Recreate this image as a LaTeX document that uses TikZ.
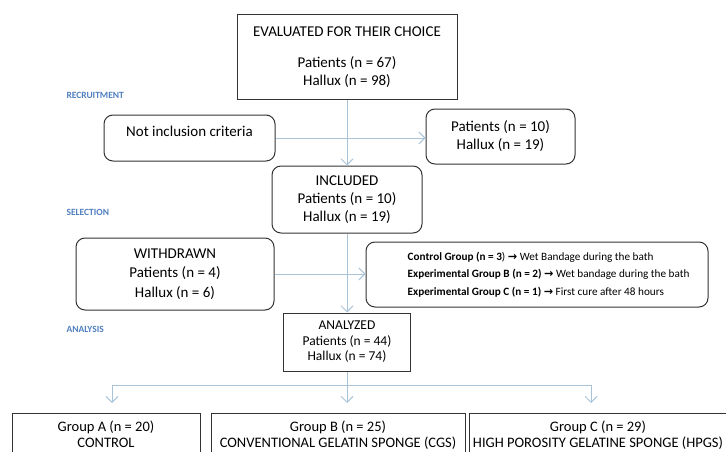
\documentclass[tikz,border=0pt]{standalone}
\usepackage{fontspec}
\setmainfont{Carlito}
\newfontfamily\arrowfont{DejaVu Sans}
\usetikzlibrary{arrows.meta}
\usepackage{xcolor}
\definecolor{flowline}{HTML}{A9C4D8}
\definecolor{stagecol}{HTML}{4F7FBF}
\definecolor{boxline}{HTML}{333333}

\begin{document}
\begin{tikzpicture}[x=1pt, y=-1pt,
        sqbox/.style={draw=boxline, line width=1pt, align=center, inner sep=0pt,
                      font=\fontsize{15}{18}\selectfont},
        rbox/.style={sqbox, rounded corners=9pt},
        flow/.style={draw=flowline, line width=0.9pt},
        flowarr/.style={flow, -{Straight Barb[length=6pt, width=12pt]}},
        stage/.style={anchor=west, text=stagecol, font=\fontsize{9.5}{11}\selectfont\bfseries}]
        \useasboundingbox (0,0) rectangle (726,452);
        \clip (0,0) rectangle (726,452);

        % stage labels on the left
        \foreach \y/\t in {95/RECRUITMENT, 212/SELECTION, 329/ANALYSIS}
            \node[stage] at (63,\y) {\t};

        \node[sqbox, minimum width=220pt, minimum height=85pt] (evaluated) at (347,57.5)
            {EVALUATED FOR THEIR CHOICE\\[13pt]Patients (n = 67)\\Hallux (n = 98)};
        \node[rbox, minimum width=171pt, minimum height=46pt, text depth=13pt] (notincl) at (189.5,138)
            {Not inclusion criteria};
        \node[rbox, minimum width=149pt, minimum height=55pt] (exclpat) at (500.5,136.5)
            {Patients (n = 10)\\Hallux (n = 19)};
        \node[rbox, minimum width=150pt, minimum height=67pt] (included) at (347,199.5)
            {INCLUDED\\Patients (n = 10)\\Hallux (n = 19)};
        \node[rbox, minimum width=198pt, minimum height=72pt] (withdrawn) at (175,274)
            {WITHDRAWN\\[1.5pt]Patients (n = 4)\\[1.5pt]Hallux (n = 6)};
        \node[rbox, minimum width=342pt, minimum height=65pt] (treat) at (537,274.5) {};
        \node[anchor=west, align=left, inner sep=0pt, font=\fontsize{11.2}{17.5}\selectfont] (treattext)
            at ([xshift=42pt]treat.west)
            {\textbf{Control Group (n = 3}) {\arrowfont\bfseries →} Wet Bandage during the bath\\
             \textbf{Experimental Group B (n = 2)} {\arrowfont\bfseries →} Wet bandage during the bath\\
             \textbf{Experimental Group C (n = 1)} {\arrowfont\bfseries →} First cure after 48 hours};
        \node[sqbox, minimum width=127pt, minimum height=58pt, font=\fontsize{13.5}{15.5}\selectfont]
            (analyzed) at (347,342)
            {ANALYZED\\Patients (n = 44)\\Hallux (n = 74)};

        % the three groups, cut off at the bottom
        \foreach \n/\x/\w/\t in {groupA/106/188/{Group A (n = 20)\\CONTROL},
                                 groupB/338/254/{Group B (n = 25)\\CONVENTIONAL GELATIN SPONGE (CGS)},
                                 groupC/598/258/{Group C (n = 29)\\HIGH POROSITY GELATINE SPONGE (HPGS)}}
            \node[sqbox, anchor=north, minimum width=\w pt, inner ysep=7pt, text depth=45pt,
                  font=\fontsize{14.5}{16}\selectfont] (\n) at (\x,413) {\t};

        \draw[flowarr] (evaluated.south) -- (included.north);
        \draw[flowarr] (notincl.east) -- (notincl.east -| exclpat.west);
        \draw[flowarr] (included.south) -- (analyzed.north);
        \draw[flowarr] (withdrawn.east) -- (withdrawn.east -| treat.west);

        \coordinate (busL) at (112,385);
        \coordinate (busR) at (591,385);
        \draw[flow] (analyzed.south) -- (analyzed.south |- busL);
        \draw[flow] (busL) -- (busR);
        \foreach \g/\p in {groupA/busL, groupB/analyzed.south, groupC/busR}
            \draw[flowarr, shorten >=10pt] (\p |- busL) -- (\p |- \g.north);
    \end{tikzpicture}
\end{document}
